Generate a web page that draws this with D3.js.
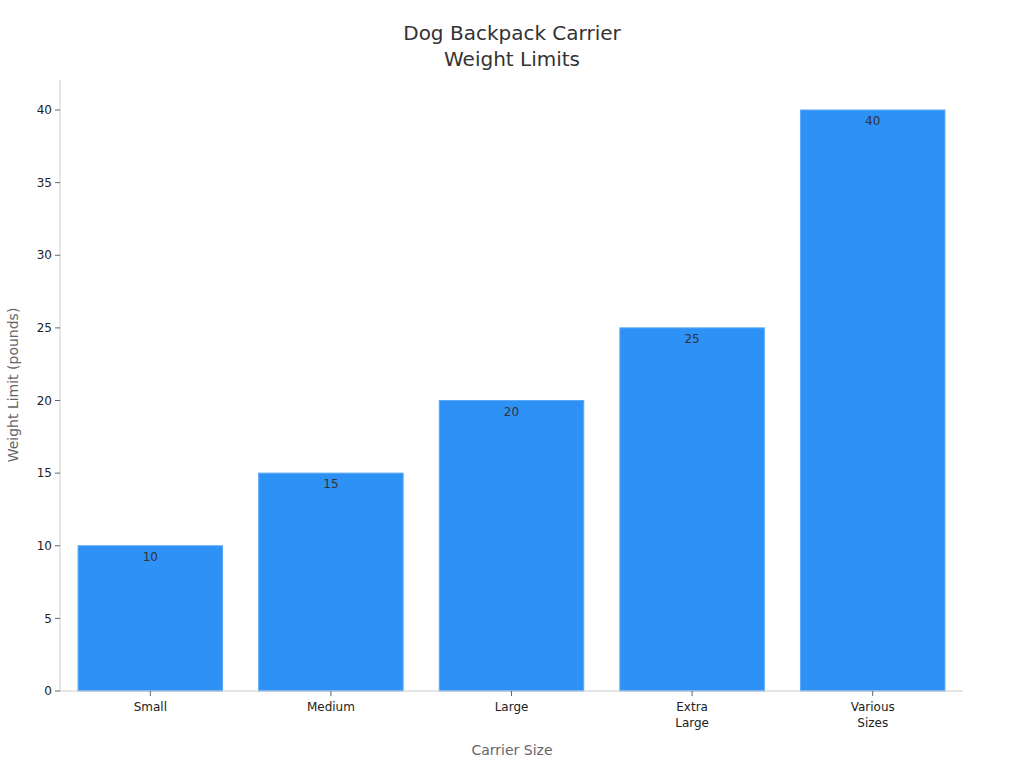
<!DOCTYPE html>
<html><head><meta charset="utf-8">
<script src="https://cdn.jsdelivr.net/npm/d3@7"></script>
<style>body{margin:0;background:#fff;font-family:"DejaVu Sans",sans-serif}</style>
</head><body><svg id="c" width="1024" height="768"></svg>
<script>
const categories = [["Small"],["Medium"],["Large"],["Extra","Large"],["Various","Sizes"]];
const values = [10,15,20,25,40];
const yTicks = [0,5,10,15,20,25,30,35,40];

const svg = d3.select("#c");
const m = {l:60, r:963, t:110, b:691};
const x = d3.scaleBand().domain(d3.range(categories.length)).range([m.l,m.r]).paddingInner(0.2).paddingOuter(0.1);
const y = d3.scaleLinear().domain([0,40]).range([m.b,m.t]);

svg.append("text").attr("x",512).attr("y",40).attr("text-anchor","middle").attr("font-size",20).attr("fill","#333").text("Dog Backpack Carrier");
svg.append("text").attr("x",512).attr("y",66).attr("text-anchor","middle").attr("font-size",20).attr("fill","#333").text("Weight Limits");

svg.selectAll("rect.bar").data(values).join("rect")
  .attr("x",(d,i)=>x(i)).attr("width",x.bandwidth())
  .attr("y",d=>y(d)).attr("height",d=>y(0)-y(d))
  .attr("fill","#2e91f5").attr("stroke","#5aa9f7").attr("stroke-width",1);

svg.selectAll("text.val").data(values).join("text")
  .attr("x",(d,i)=>x(i)+x.bandwidth()/2).attr("y",d=>y(d)+15)
  .attr("text-anchor","middle").attr("font-size",12).attr("fill","#333").text(d=>d);

// y axis
svg.append("line").attr("x1",m.l).attr("x2",m.l).attr("y1",80).attr("y2",m.b).attr("stroke","#ccc");
svg.append("line").attr("x1",m.l).attr("x2",m.r).attr("y1",m.b).attr("y2",m.b).attr("stroke","#ccc");
const yt = svg.selectAll("g.yt").data(yTicks).join("g").attr("transform",d=>`translate(0,${y(d)})`);
yt.append("line").attr("x1",m.l-5).attr("x2",m.l).attr("stroke","#666");
yt.append("text").attr("x",m.l-8).attr("dy","0.35em").attr("text-anchor","end").attr("font-size",12).attr("fill","#222").text(d=>d);

const xt = svg.selectAll("g.xt").data(categories).join("g").attr("transform",(d,i)=>`translate(${x(i)+x.bandwidth()/2},${m.b})`);
xt.append("line").attr("y1",0).attr("y2",5).attr("stroke","#666");
xt.each(function(d){
  const g=d3.select(this);
  d.forEach((t,j)=>g.append("text").attr("y",20+j*16).attr("text-anchor","middle").attr("font-size",12).attr("fill","#222").text(t));
});

svg.append("text").attr("x",512).attr("y",755).attr("text-anchor","middle").attr("font-size",14).attr("fill","#666").text("Carrier Size");
svg.append("text").attr("transform","translate(18,385) rotate(-90)").attr("text-anchor","middle").attr("font-size",14).attr("fill","#666").text("Weight Limit (pounds)");
</script></body></html>
